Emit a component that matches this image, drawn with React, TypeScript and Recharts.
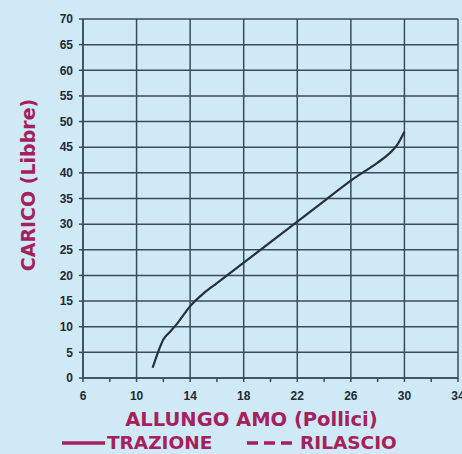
import React from 'react';
import { LineChart, Line, XAxis, YAxis, CartesianGrid, ReferenceLine, Legend } from 'recharts';

const allungo = [11.2, 11.6, 12, 12.5, 13, 14, 15, 16, 17, 18, 20, 22, 24, 26, 28, 28.8, 29.5, 30];
const trazione = [2, 5, 7.5, 9, 10.5, 14, 16.5, 18.5, 20.5, 22.5, 26.5, 30.5, 34.5, 38.5, 42, 43.6, 45.6, 48];
const xTicks = [6, 8, 10, 12, 14, 16, 18, 20, 22, 24, 26, 28, 30, 32, 34];
const xMajor = [6, 10, 14, 18, 22, 26, 30, 34];
const yTicks = [0, 5, 10, 15, 20, 25, 30, 35, 40, 45, 50, 55, 60, 65, 70];
const seriesNames = ['TRAZIONE', 'RILASCIO'];

const data = allungo.map((x, i) => ({ x, trazione: trazione[i] }));

const BG = '#cfe9f6';
const MAGENTA = '#a5215c';
const GRID = '#3a4c5a';
const INK = '#1f2b35';
const FONT = '"DejaVu Sans", Verdana, sans-serif';
const TICKFONT = '"Liberation Sans", Arial, sans-serif';

const XTick = (props: any) => {
  const { x, y, payload } = props;
  const isMajor = xMajor.includes(payload.value);
  const axisY = y - 13;
  return (
    <g>
      <line x1={x} x2={x} y1={axisY} y2={axisY + 4} stroke={GRID} strokeWidth={1.5} />
      {isMajor && (
        <text x={x} y={y} dy="0.71em" textAnchor="middle" fontSize={12} fontWeight="bold" fill={INK} fontFamily={TICKFONT}>
          {payload.value}
        </text>
      )}
    </g>
  );
};

const LegendContent = (props: any) => {
  const items = props.payload || [];
  return (
    <div style={{ position: 'relative', width: 462, height: 22 }}>
      {items.map((item: any) => {
        const idx = seriesNames.indexOf(item.value);
        return (
          <div key={item.value} style={{ position: 'absolute', left: idx === 0 ? 62 : 247, top: 0, display: 'flex', alignItems: 'center', height: 22 }}>
            <svg width={idx === 0 ? 43 : 46} height={10} style={{ marginRight: idx === 0 ? 2 : 7 }}>
              <line x1={0} x2={idx === 0 ? 43 : 46} y1={5} y2={5} stroke={MAGENTA} strokeWidth={3.5} strokeDasharray={idx === 0 ? undefined : '11 6'} />
            </svg>
            <span style={{ color: MAGENTA, fontFamily: FONT, fontWeight: 'bold', fontSize: 18.5, lineHeight: '22px', whiteSpace: 'nowrap' }}>{item.value}</span>
          </div>
        );
      })}
    </div>
  );
};

export default function App() {
  return (
    <div style={{ position: 'absolute', left: 0, top: 0, width: 462, height: 454, background: BG, overflow: 'hidden' }}>
      <LineChart width={462} height={454} data={data} margin={{ top: 19, right: 4, left: 0, bottom: 46 }}>
        <CartesianGrid vertical={false} stroke={GRID} strokeWidth={1.5} />
        {xMajor.map((v) => (
          <ReferenceLine key={v} x={v} stroke={GRID} strokeWidth={1.5} />
        ))}
        <XAxis
          dataKey="x"
          type="number"
          domain={[6, 34]}
          ticks={xTicks}
          interval={0}
          height={30}
          tickSize={5}
          tickMargin={8}
          tickLine={false}
          axisLine={{ stroke: GRID, strokeWidth: 1.5 }}
          tick={<XTick />}
          label={(p: any) => {
            const vb = p.viewBox;
            return (
              <text x={vb.x + vb.width / 2 - 19} y={419} dominantBaseline="central" textAnchor="middle" fontFamily={FONT} fontWeight="bold" fontSize={19.5} fill={MAGENTA}>
                ALLUNGO AMO (Pollici)
              </text>
            );
          }}
        />
        <YAxis
          type="number"
          domain={[0, 70]}
          ticks={yTicks}
          interval={0}
          width={83}
          tickSize={4}
          tickMargin={6}
          tickLine={{ stroke: GRID, strokeWidth: 1.5 }}
          axisLine={{ stroke: GRID, strokeWidth: 1.5 }}
          tick={{ fontSize: 12, fontWeight: 'bold', fill: INK, fontFamily: TICKFONT }}
          label={() => (
            <text x={28} y={185} transform="rotate(-90 28 185)" dominantBaseline="central" textAnchor="middle" fontFamily={FONT} fontWeight="bold" fontSize={19} fill={MAGENTA}>
              CARICO (Libbre)
            </text>
          )}
        />
        <Line type="monotone" dataKey="trazione" name={seriesNames[0]} stroke="#26313b" strokeWidth={2.2} dot={false} isAnimationActive={false} />
        <Line type="monotone" dataKey="rilascio" name={seriesNames[1]} stroke={MAGENTA} strokeDasharray="8 5" strokeWidth={2} dot={false} isAnimationActive={false} />
        <Legend layout="horizontal" verticalAlign="middle" align="center" content={<LegendContent />} wrapperStyle={{ position: 'absolute', left: 0, top: 432, width: 462, height: 22 }} />
      </LineChart>
    </div>
  );
}
